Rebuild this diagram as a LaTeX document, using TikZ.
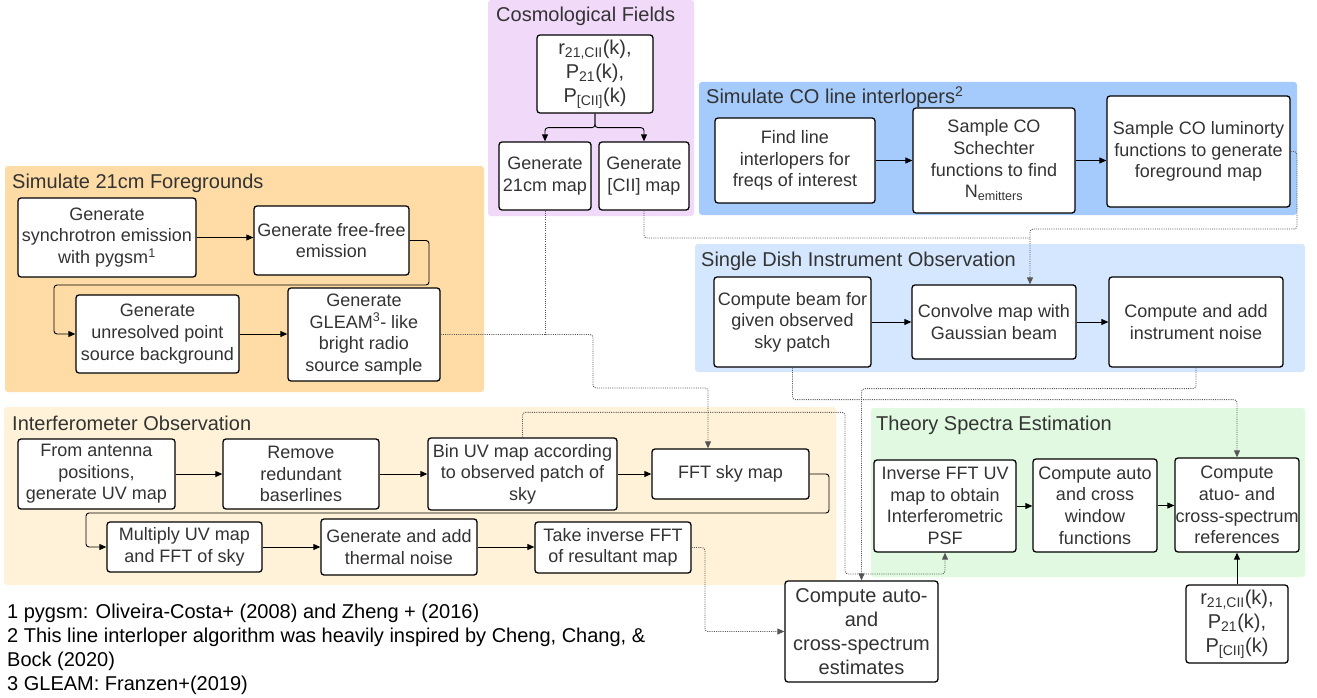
\documentclass[tikz,border=0pt]{standalone}
\usepackage{fontspec}
\setmainfont{Liberation Sans}
\usetikzlibrary{arrows.meta}
\definecolor{txt}{RGB}{51,51,51}
\definecolor{corange}{RGB}{255,220,166}
\definecolor{cpurple}{RGB}{241,217,250}
\definecolor{cblue}{RGB}{165,203,252}
\definecolor{clblue}{RGB}{213,231,254}
\definecolor{cpeach}{RGB}{255,242,216}
\definecolor{cgreen}{RGB}{224,249,224}
\definecolor{dotc}{RGB}{85,85,85}
\begin{document}
\begin{tikzpicture}[x=1pt,y=-1pt,
  box/.style={draw=black, line width=1.3pt, rounded corners=3pt, fill=white, align=center, inner sep=0pt, text=txt, font=\fontsize{18}{21.6}\selectfont},
  bigbox/.style={box, font=\fontsize{20}{24}\selectfont},
  sect/.style={rounded corners=3pt, inner sep=0pt},
  ttl/.style={anchor=base west, inner sep=0pt, text=txt, font=\fontsize{20}{24}\selectfont},
  fn/.style={anchor=base west, inner sep=0pt, text=black, font=\fontsize{20}{24}\selectfont},
  ln/.style={line width=0.9pt, rounded corners=3pt, draw=black},
  arr/.style={ln, -{Triangle[length=7pt,width=6pt]}},
  dl/.style={line width=0.9pt, dash pattern=on 1pt off 1.2pt, draw=dotc, rounded corners=3pt},
  darr/.style={dl, -{Triangle[length=7pt,width=6pt]}}
]
\useasboundingbox (0,0) rectangle (1317,698);

% sections
\node[sect, fill=corange, minimum width=479pt, minimum height=226pt] (s21) at (244.5,279) {};
\node[sect, fill=cpurple, minimum width=206pt, minimum height=216pt] (scos) at (591,108) {};
\node[sect, fill=cblue, minimum width=598pt, minimum height=133pt] (sco) at (998,148.5) {};
\node[sect, fill=clblue, minimum width=610pt, minimum height=128pt] (ssd) at (1000,308) {};
\node[sect, fill=cpeach, minimum width=832pt, minimum height=178pt] (sio) at (420,496) {};
\node[sect, fill=cgreen, minimum width=434pt, minimum height=169pt] (sts) at (1088,492.5) {};

\node[ttl] (t21) at (12,188) {Simulate 21cm Foregrounds};
\node[ttl] (tcos) at (496,22) {Cosmological Fields};
\node[ttl] (tco) at (706,104) {Simulate CO line interlopers\textsuperscript{2}};
\node[ttl] (tsd) at (701,266) {Single Dish Instrument Observation};
\node[ttl] (tio) at (12,430) {Interferometer Observation};
\node[ttl] (tts) at (876,430) {Theory Spectra Estimation};

% 21cm foregrounds
\node[box, minimum width=178pt, minimum height=79pt] (syn) at (107,237.5) {Generate\\synchrotron emission\\with pygsm\textsuperscript{1}};
\node[box, minimum width=155pt, minimum height=69pt] (ff) at (331.5,240.5) {Generate free-free\\emission};
\node[box, minimum width=163pt, minimum height=78pt] (unres) at (157.5,334) {Generate\\unresolved point\\source background};
\node[box, minimum width=152pt, minimum height=93pt] (gleam) at (364,334.5) {Generate\\GLEAM\textsuperscript{3}- like\\bright radio\\source sample};

% cosmological fields
\node[bigbox, minimum width=116pt, minimum height=78pt] (cosRP) at (595,74) {r\textsubscript{21,CII}(k),\\P\textsubscript{21}(k),\\P\textsubscript{[CII]}(k)};
\node[box, minimum width=92pt, minimum height=68pt] (m21) at (545,176) {Generate\\21cm map};
\node[box, minimum width=90pt, minimum height=68pt] (mCII) at (644,176) {Generate\\{[CII]} map};

% CO interlopers
\node[box, minimum width=160pt, minimum height=85pt] (find) at (795,160.5) {Find line\\interlopers for\\freqs of interest};
\node[box, minimum width=162pt, minimum height=105pt] (sch) at (994,160.5) {Sample CO\\Schechter\\functions to find\\N\textsubscript{emitters}};
\node[box, minimum width=183pt, minimum height=111pt] (lum) at (1198.5,151.5) {Sample CO luminorty\\functions to generate\\foreground map};

% single dish
\node[box, minimum width=157pt, minimum height=90pt] (beam) at (792.5,322) {Compute beam for\\given observed\\sky patch};
\node[box, minimum width=164pt, minimum height=74pt] (conv) at (994,322) {Convolve map with\\Gaussian beam};
\node[box, minimum width=174pt, minimum height=90pt] (noise) at (1196,322) {Compute and add\\instrument noise};

% interferometer
\node[box, minimum width=157pt, minimum height=70pt] (ant) at (96.5,474) {From antenna\\positions,\\generate UV map};
\node[box, minimum width=156pt, minimum height=70pt] (rem) at (301,474) {Remove\\redundant\\baserlines};
\node[box, minimum width=189pt, minimum height=72pt] (bin) at (522.5,474) {Bin UV map according\\to observed patch of\\sky};
\node[box, minimum width=157pt, minimum height=50pt] (fft) at (730.5,474) {FFT sky map};
\node[box, minimum width=155pt, minimum height=50pt] (mult) at (184.5,547) {Multiply UV map\\and FFT of sky};
\node[box, minimum width=156pt, minimum height=56pt] (therm) at (399,547) {Generate and add\\thermal noise};
\node[box, minimum width=156pt, minimum height=51pt] (inv) at (613,547.5) {Take inverse FFT\\of resultant map};

% theory
\node[box, minimum width=142pt, minimum height=92pt] (psf) at (945,506) {Inverse FFT UV\\map to obtain\\Interferometric\\PSF};
\node[box, minimum width=124pt, minimum height=93pt] (win) at (1095,505.5) {Compute auto\\and cross\\window\\functions};
\node[box, minimum width=124pt, minimum height=94pt] (ref) at (1237,505) {Compute\\atuo- and\\cross-spectrum\\references};
\node[bigbox, minimum width=153pt, minimum height=101pt] (est) at (861.5,631.5) {Compute auto-\\and\\cross-spectrum\\estimates};
\node[bigbox, minimum width=102pt, minimum height=78pt] (thRP) at (1237,624) {r\textsubscript{21,CII}(k),\\P\textsubscript{21}(k),\\P\textsubscript{[CII]}(k)};

% footnotes
\node[fn] (fn1) at (7,618) {1 pygsm: Oliveira-Costa+ (2008) and Zheng + (2016)};
\node[fn] (fn2) at (7,642) {2 This line interloper algorithm was heavily inspired by Cheng, Chang, \&};
\node[fn] (fn3) at (7,666) {Bock (2020)};
\node[fn] (fn4) at (7,690) {3 GLEAM: Franzen+(2019)};

% solid connectors
\draw[arr] (cosRP.south) -- ++(0,14) -| (m21.north);
\draw[arr] (cosRP.south) -- ++(0,14) -| (mCII.north);
\draw[arr] (syn.east) -- (syn.east -| ff.west);
\draw[arr] (ff.east) -| (429,285) -- (54,285) |- (unres.west);
\draw[arr] (unres.east) -- (unres.east -| gleam.west);
\draw[arr] (find.east) -- (find.east -| sch.west);
\draw[arr] (sch.east) -- (sch.east -| lum.west);
\draw[arr] (beam.east) -- (beam.east -| conv.west);
\draw[arr] (conv.east) -- (conv.east -| noise.west);
\draw[arr] (ant.east) -- (ant.east -| rem.west);
\draw[arr] (rem.east) -- (rem.east -| bin.west);
\draw[arr] (bin.east) -- (bin.east -| fft.west);
\draw[arr] (fft.east) -| (829,513) -- (86,513) |- (mult.west);
\draw[arr] (mult.east) -- (mult.east -| therm.west);
\draw[arr] (therm.east) -- (therm.east -| inv.west);
\draw[arr] (psf.east) -- (psf.east -| win.west);
\draw[arr] (win.east) -- (win.east -| ref.west);
\draw[arr] (thRP.north) -- (ref.south);

% dotted connectors
\draw[darr] (gleam.east) -| (593,388) -| ([xshift=-22.5pt]fft.north);
\draw[dl] (m21.south) -- (m21.south |- gleam.east);
\draw[darr] (lum.east) -| (1297,229) -| ([xshift=36pt]conv.north);
\draw[dl] (mCII.south) |- (1030,238);
\draw[darr] (beam.south) -- ++(0,32) -| (ref.north);
\draw[darr] (noise.south) -- ++(0,21) -| (est.north);
\draw[darr] (bin.north) -- ++(0,-25) -| (845,574) -| (psf.south);
\draw[darr] (inv.east) -| (705,631.5) -- (est.west);
\end{tikzpicture}
\end{document}
